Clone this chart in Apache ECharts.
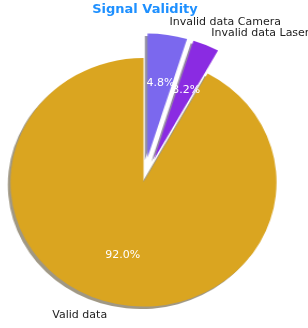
<!DOCTYPE html>
<html>
<head>
<meta charset="utf-8">
<script src="https://cdn.jsdelivr.net/npm/echarts@6/dist/echarts.min.js"></script>
<style>
  html, body { margin: 0; padding: 0; background: #fff; }
  .box { position: absolute; left: 0; top: 0; width: 308px; height: 328px; }
  /* the reference pie is an ellipse: stretch the slice layer sideways */
  #pie { transform: scaleX(1.07); transform-origin: 143.5px 0; }
</style>
</head>
<body>
<div id="pie" class="box"></div>
<div id="text" class="box"></div>
<script>
// slices, clockwise from 12 o'clock
const categories = ["Invalid data Camera", "Invalid data Laser", "Valid data"];
const values = [4.8, 3.2, 92.0];
const exploded = [true, true, false];
const colors = ["#7b68ee", "#8a2be2", "#daa520"];
const shadows = ["rgba(37,31,71,0.5)", "rgba(41,13,68,0.5)", "rgba(65,50,10,0.5)"];

const cx = 143.5, cy = 182.3, r = 124.3;
const stretch = 1.07;
const offset = 0.2 * r;
const font = "DejaVu Sans";

// the text layer is not stretched, so nudge each label sideways by the stretch
function nudge(i, dist, extra) {
  const total = values.reduce((a, b) => a + b, 0);
  let start = 0;
  for (let k = 0; k < i; k++) start += values[k];
  const mid = (90 - (start + values[i] / 2) / total * 360) * Math.PI / 180;
  const d = dist + (exploded[i] ? offset : 0);
  const dx = Math.cos(mid);
  return [(stretch - 1) * d * dx + extra * Math.sign(dx), -extra * Math.sin(mid)];
}

function items(show, dist, extra) {
  return categories.map((name, i) => {
    const item = { name: name, value: values[i], selected: exploded[i] };
    if (show) {
      item.itemStyle = {
        color: colors[i],
        borderWidth: 0,
        shadowColor: shadows[i],
        shadowBlur: 0,
        shadowOffsetX: -2.5,
        shadowOffsetY: 2.5
      };
    } else {
      const off = nudge(i, dist, extra);
      item.itemStyle = { color: "rgba(0,0,0,0)", borderWidth: 0 };
      item.label = { offset: off };
      item.select = { label: { offset: off } };
    }
    return item;
  });
}

const base = {
  type: "pie",
  center: [cx, cy],
  startAngle: 90,
  clockwise: true,
  selectedMode: "multiple",
  selectedOffset: offset,
  avoidLabelOverlap: false,
  labelLayout: { hideOverlap: false },
  silent: true,
  animation: false,
  emphasis: { disabled: true, scale: false }
};

const pieChart = echarts.init(document.getElementById("pie"));
pieChart.setOption({
  animation: false,
  series: [Object.assign({}, base, {
    radius: [0, r],
    label: { show: false },
    labelLine: { show: false },
    data: items(true)
  })]
});

const textChart = echarts.init(document.getElementById("text"));
textChart.setOption({
  animation: false,
  title: {
    text: "Signal Validity",
    left: 145,
    textAlign: "center",
    top: 3,
    padding: 0,
    textStyle: { color: "#1e90ff", fontSize: 13, fontWeight: "bold", fontFamily: font }
  },
  series: [
    Object.assign({}, base, {
      radius: [0, 2 * (0.6 * r - 3)],
      label: {
        show: true,
        position: "inside",
        color: "#ffffff",
        fontSize: 11,
        fontFamily: font,
        formatter: p => p.value.toFixed(1) + "%"
      },
      labelLine: { show: false },
      data: items(false, 0.6 * r, 1)
    }),
    Object.assign({}, base, {
      radius: [0, r],
      label: {
        show: true,
        position: "outside",
        color: "#222222",
        fontSize: 11,
        fontFamily: font,
        distanceToLabelLine: 0,
        formatter: "{b}"
      },
      labelLine: { show: false, length: 0.1 * r, length2: 0 },
      data: items(false, 1.1 * r, 0)
    })
  ]
});
</script>
</body>
</html>
